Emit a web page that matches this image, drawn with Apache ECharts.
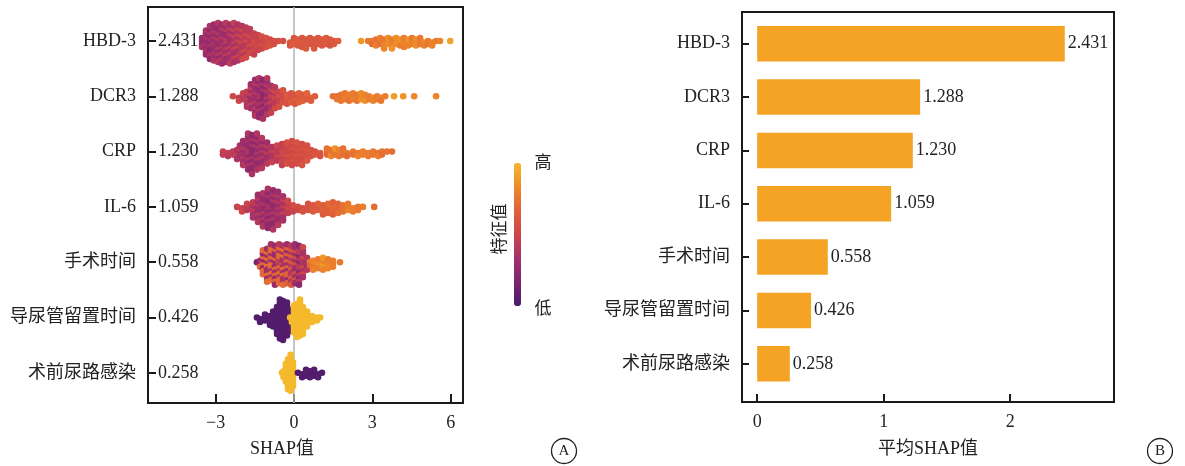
<!DOCTYPE html>
<html>
<head>
<meta charset="utf-8">
<script src="https://cdn.jsdelivr.net/npm/echarts@6/dist/echarts.min.js"></script>
<style>html,body{margin:0;padding:0;background:#fff}#c{width:1185px;height:466px}</style>
</head>
<body>
<div id="c"></div>
<script>
// ---------- data ----------
const features = ['HBD-3', 'DCR3', 'CRP', 'IL-6', '手术时间', '导尿管留置时间', '术前尿路感染'];
const meanShap = [2.431, 1.288, 1.230, 1.059, 0.558, 0.426, 0.258];
const shapTicks = [-3, 0, 3, 6];
const meanTicks = [0, 1, 2];

// beeswarm bins: [SHAP value, number of samples, feature value A, feature value B]
const binsHBD3 = [
  [-3.52,4,.28,.36],[-3.37,9,.28,.36],[-3.22,12,.25,.36],[-3.07,13,.28,.38],[-2.91,14,.28,.40],
  [-2.76,14,.30,.40],[-2.61,14,.30,.42],[-2.45,14,.32,.44],[-2.30,14,.34,.46],[-2.15,13,.36,.48],
  [-1.99,12,.40,.50],[-1.84,11,.42,.52],[-1.69,9,.44,.52],[-1.53,8,.46,.54],[-1.38,6,.48,.54],
  [-1.23,5,.50,.56],[-1.07,4,.52,.56],[-0.92,3,.54,.58],[-0.77,2,.55,.58],[-0.61,1,.56,.56],
  [-0.42,1,.55,.55],
  [-0.15,2,.60,.62],[0.00,3,.60,.64],[0.15,3,.60,.62],[0.31,4,.60,.64],[0.46,4,.62,.60],
  [0.61,3,.60,.64],[0.77,4,.62,.60],[0.92,3,.60,.64],[1.07,3,.62,.60],[1.23,3,.62,.64],
  [1.38,3,.62,.60],[1.53,2,.62,.64],[1.69,1,.64,.64],
  [2.57,1,.88,.88],
  [2.84,1,.76,.76],[2.99,2,.76,.72],[3.14,3,.78,.74],[3.30,3,.78,.74],[3.45,4,.80,.76],
  [3.60,3,.84,.78],[3.75,4,.86,.78],[3.91,3,.84,.80],[4.06,3,.86,.78],[4.21,4,.82,.78],
  [4.37,3,.86,.80],[4.52,3,.80,.76],[4.67,3,.84,.78],[4.83,3,.80,.76],[4.98,2,.78,.82],
  [5.13,2,.78,.76],[5.29,2,.80,.78],[5.44,1,.78,.78],[5.59,1,.80,.80],[5.98,1,.92,.92]
];
const binsDCR3 = [
  [-2.34,1,.50,.50],[-2.11,2,.44,.50],[-1.95,3,.42,.48],[-1.80,6,.38,.46],[-1.65,9,.32,.44],
  [-1.49,13,.30,.40],[-1.34,14,.26,.38],[-1.19,14,.24,.36],[-1.03,13,.28,.40],[-0.88,10,.36,.46],
  [-0.73,8,.42,.52],[-0.57,6,.48,.56],[-0.42,5,.52,.58],[-0.27,4,.56,.62],[-0.11,4,.58,.64],
  [0.04,4,.60,.66],[0.19,4,.62,.66],[0.34,3,.62,.66],[0.50,3,.64,.68],[0.65,2,.64,.66],
  [0.80,1,.64,.64],
  [1.49,1,.74,.74],[1.65,2,.74,.76],[1.80,3,.76,.74],[1.95,3,.76,.78],[2.11,3,.74,.78],
  [2.26,3,.78,.76],[2.41,3,.80,.76],[2.57,3,.84,.78],[2.72,3,.80,.86],[2.87,2,.78,.82],
  [3.03,2,.76,.80],[3.18,2,.78,.76],[3.33,2,.76,.80],[3.49,1,.78,.78],
  [3.83,1,.90,.90],[4.18,1,.86,.86],[4.60,1,.82,.82],[5.44,1,.80,.80]
];
const binsCRP = [
  [-2.72,2,.44,.48],[-2.53,2,.46,.42],[-2.34,2,.44,.48],[-2.18,4,.38,.46],[-2.07,5,.34,.44],
  [-1.95,9,.30,.40],[-1.76,13,.26,.38],[-1.61,14,.24,.36],[-1.42,13,.26,.38],[-1.23,11,.28,.40],
  [-1.03,8,.32,.42],[-0.84,6,.38,.46],[-0.65,6,.42,.50],[-0.46,8,.46,.52],[-0.27,8,.50,.56],
  [-0.08,9,.52,.56],[0.11,8,.54,.58],[0.31,8,.54,.58],[0.50,6,.56,.60],[0.65,3,.58,.62],
  [0.80,2,.56,.60],[1.00,2,.58,.62],
  [1.26,3,.74,.70],[1.42,3,.80,.74],[1.57,3,.86,.76],[1.72,3,.76,.80],[1.88,3,.74,.78],
  [2.03,2,.76,.72],[2.26,2,.74,.78],[2.45,2,.76,.80],[2.64,2,.78,.74],[2.84,2,.74,.78],
  [3.03,2,.76,.78],[3.22,2,.78,.74],[3.37,2,.76,.72],[3.56,1,.74,.74],[3.75,1,.72,.72]
];
const binsIL6 = [
  [-2.18,1,.48,.48],[-1.99,2,.46,.50],[-1.80,3,.42,.48],[-1.57,6,.36,.44],[-1.38,10,.30,.40],
  [-1.19,12,.26,.38],[-1.00,14,.24,.36],[-0.80,14,.26,.38],[-0.61,12,.30,.40],[-0.42,9,.34,.44],
  [-0.23,5,.44,.50],[-0.04,3,.48,.54],[0.15,2,.52,.56],[0.34,2,.54,.58],[0.54,3,.58,.62],
  [0.73,3,.60,.64],[0.92,3,.62,.66],[1.11,4,.64,.68],[1.30,4,.66,.70],[1.49,5,.70,.66],
  [1.69,4,.72,.68],[1.88,3,.74,.78],[2.07,3,.76,.80],[2.26,2,.78,.74],[2.45,2,.80,.76],
  [2.64,1,.78,.78],[3.07,1,.72,.72]
];
const binsOpTime = [
  [-1.42,1,.15,.15],[-1.30,3,.30,.70],[-1.19,9,.70,.25],[-1.03,12,.30,.72],[-0.88,13,.72,.35],
  [-0.73,14,.28,.68],[-0.57,14,.70,.40],[-0.42,14,.35,.72],[-0.27,14,.66,.30],[-0.11,14,.40,.62],
  [0.04,14,.30,.55],[0.19,14,.42,.22],[0.34,11,.35,.50],[0.50,5,.40,.30],
  [0.61,2,.70,.80],[0.73,4,.80,.76],[0.92,4,.84,.78],[1.11,5,.80,.88],[1.30,4,.82,.78],
  [1.49,3,.78,.80],[1.76,1,.76,.76]
];
const binsCathLow = [
  [-1.42,1,.03,.03],[-1.30,2,.03,.03],[-1.11,3,.03,.03],[-0.92,4,.03,.03],[-0.80,6,.03,.03],
  [-0.65,10,.03,.03],[-0.54,14,.03,.03],[-0.42,14,.03,.03],[-0.27,12,.03,.03],[-0.15,8,.03,.03],
  [-0.04,3,.03,.03]
];
const binsCathHigh = [
  [-0.15,1,1,1],[-0.08,2,1,1],[0.00,10,1,1],[0.11,12,1,1],[0.23,13,1,1],[0.34,10,1,1],
  [0.50,6,1,1],[0.69,3,1,1],[0.88,2,1,1],[1.00,1,1,1]
];
const binsUTIHigh = [
  [-0.46,1,1,1],[-0.40,3,1,1],[-0.31,7,1,1],[-0.23,11,1,1],[-0.13,13,1,1],[-0.04,9,1,1]
];
const binsUTILow = [
  [0.15,1,.03,.03],[0.31,2,.03,.03],[0.46,3,.03,.03],[0.61,3,.03,.03],[0.77,3,.03,.03],
  [0.92,2,.03,.03],[1.07,1,.03,.03]
];
const swarmGroups = [[binsHBD3], [binsDCR3], [binsCRP], [binsIL6], [binsOpTime], [binsCathLow, binsCathHigh], [binsUTIHigh, binsUTILow]];

// ---------- beeswarm layout (stack samples of a bin symmetrically around the row) ----------
const ROW_PX = 55.3, LAYER_PX = 3.0;
const STEP = LAYER_PX / ROW_PX;
const points = [];
swarmGroups.forEach((groups, row) => {
  groups.forEach(bins => {
    bins.forEach((b, bi) => {
      const [x, n, ca, cb] = b;
      const stagger = (bi % 2 && n > 1) ? STEP / 2 : 0;
      for (let k = 0; k < n; k++) {
        const layer = Math.ceil(k / 2) * (k % 2 ? 1 : -1);
        const c = ((k * 5 + bi * 3) % 7 < 3) ? cb : ca;
        points.push([x, row + layer * STEP + stagger, c]);
      }
    });
  });
});

const FONT = 'Liberation Serif, Noto Sans CJK SC, serif';
const INK = '#1a1a1a';
const idx = features.map((_, i) => i);
const fmtName = v => features[Math.round(v)] || '';
const fmtVal = v => (meanShap[Math.round(v)] !== undefined ? meanShap[Math.round(v)].toFixed(3) : '');
const minus = v => (v < 0 ? '\u2212' + Math.abs(v) : String(v));

const chart = echarts.init(document.getElementById('c'), null, { renderer: 'canvas' });
chart.setOption({
  animation: false,
  backgroundColor: '#fff',
  textStyle: { fontFamily: FONT },
  grid: [
    { left: 148, top: 7, width: 315, height: 396, show: true, borderColor: INK, borderWidth: 2, backgroundColor: 'transparent' },
    { left: 742, top: 12, width: 372, height: 390, show: true, borderColor: INK, borderWidth: 2, backgroundColor: 'transparent' },
    { left: 742, top: 17, width: 372, height: 373.5 }
  ],
  xAxis: [
    {
      gridIndex: 0, type: 'value', min: -5.59, max: 6.47, splitLine: { show: false },
      axisLine: { show: true, onZero: false, lineStyle: { color: INK, width: 2 } },
      axisTick: { show: true, inside: true, length: 9, lineStyle: { color: INK, width: 2 }, customValues: shapTicks },
      axisLabel: { customValues: shapTicks, formatter: minus, fontSize: 18, color: '#222', margin: 11, fontFamily: FONT }
    },
    {
      gridIndex: 1, type: 'value', min: -0.12, max: 2.82, splitLine: { show: false },
      axisLine: { show: true, onZero: false, lineStyle: { color: INK, width: 2 } },
      axisTick: { show: true, inside: true, length: 8, lineStyle: { color: INK, width: 2 }, customValues: meanTicks },
      axisLabel: { customValues: meanTicks, fontSize: 18, color: '#222', margin: 11, fontFamily: FONT },
      name: '平均SHAP值', nameLocation: 'middle', nameGap: 38,
      nameTextStyle: { fontSize: 18, color: '#222', fontFamily: FONT }
    },
    { gridIndex: 2, type: 'value', min: -0.12, max: 2.82, show: false }
  ],
  yAxis: [
    {
      gridIndex: 0, type: 'value', inverse: true, min: -0.615, max: 6.546, splitLine: { show: false },
      axisLine: { show: true, onZero: false, lineStyle: { color: INK, width: 2 } },
      axisTick: { show: true, inside: true, length: 8, lineStyle: { color: INK, width: 2 }, customValues: idx },
      axisLabel: { customValues: idx, formatter: fmtName, fontSize: 18, color: '#222', margin: 12, fontFamily: FONT }
    },
    {
      gridIndex: 0, type: 'value', inverse: true, min: -0.615, max: 6.546, position: 'left', splitLine: { show: false },
      axisLine: { show: false, onZero: false }, axisTick: { show: false },
      axisLabel: { inside: true, customValues: idx, formatter: fmtVal, fontSize: 18, color: '#222', margin: 10, fontFamily: FONT }
    },
    {
      gridIndex: 1, type: 'value', min: 0, max: 1, splitLine: { show: false },
      axisLine: { show: true, onZero: false, lineStyle: { color: INK, width: 2 } }, axisTick: { show: false }, axisLabel: { show: false }
    },
    {
      gridIndex: 2, type: 'category', inverse: true, data: features,
      axisLine: { show: false, onZero: false },
      axisTick: { show: true, inside: true, alignWithLabel: true, length: 7, lineStyle: { color: INK, width: 2 } },
      axisLabel: { fontSize: 18, color: '#222', margin: 12, fontFamily: FONT }
    }
  ],
  visualMap: {
    type: 'continuous', min: 0, max: 1, dimension: 2, seriesIndex: 1,
    calculable: false, show: true, orient: 'vertical', left: 514, top: 163,
    itemWidth: 7, itemHeight: 143, padding: 0, text: null, hoverLink: false,
    inRange: { color: ['#4a1a6c', '#7b2470', '#a5306a', '#cd4649', '#e0603a', '#ee8a28', '#f5b92c'] }
  },
  series: [
    {
      type: 'line', xAxisIndex: 0, yAxisIndex: 0, data: [[0, -0.615], [0, 6.546]],
      symbol: 'none', silent: true, z: 1, lineStyle: { color: '#b4b4b4', width: 1.5 }
    },
    {
      type: 'scatter', xAxisIndex: 0, yAxisIndex: 0, data: points, symbolSize: 6.6, z: 2, silent: true,
      itemStyle: { opacity: 1 }
    },
    {
      type: 'bar', xAxisIndex: 2, yAxisIndex: 3, data: meanShap, barWidth: 35.5, silent: true,
      itemStyle: { color: '#f4a324' },
      label: { show: true, position: 'right', distance: 3, formatter: p => p.value.toFixed(3), fontSize: 18, color: '#222', fontFamily: FONT }
    }
  ],
  graphic: [
    { type: 'text', left: 277 - 27, top: 440, style: { text: 'SHAP值', font: '18px ' + FONT, fill: '#222' } },
    { type: 'text', x: 543, y: 162, style: { text: '高', font: '17px Noto Sans CJK SC', fill: '#222', align: 'center', verticalAlign: 'middle' } },
    { type: 'text', x: 543, y: 308, style: { text: '低', font: '17px Noto Sans CJK SC', fill: '#222', align: 'center', verticalAlign: 'middle' } },
    { type: 'text', x: 499, y: 229, rotation: Math.PI / 2, style: { text: '特征值', font: '17px Noto Sans CJK SC', fill: '#222', align: 'center', verticalAlign: 'middle' } },
    { type: 'circle', shape: { cx: 564, cy: 451, r: 12.5 }, style: { fill: 'none', stroke: '#222', lineWidth: 1.3 } },
    { type: 'text', x: 564, y: 451, style: { text: 'A', font: '15px Liberation Serif', fill: '#222', align: 'center', verticalAlign: 'middle' } },
    { type: 'circle', shape: { cx: 1160, cy: 451, r: 12.5 }, style: { fill: 'none', stroke: '#222', lineWidth: 1.3 } },
    { type: 'text', x: 1160, y: 451, style: { text: 'B', font: '15px Liberation Serif', fill: '#222', align: 'center', verticalAlign: 'middle' } }
  ]
});
</script>
</body>
</html>
